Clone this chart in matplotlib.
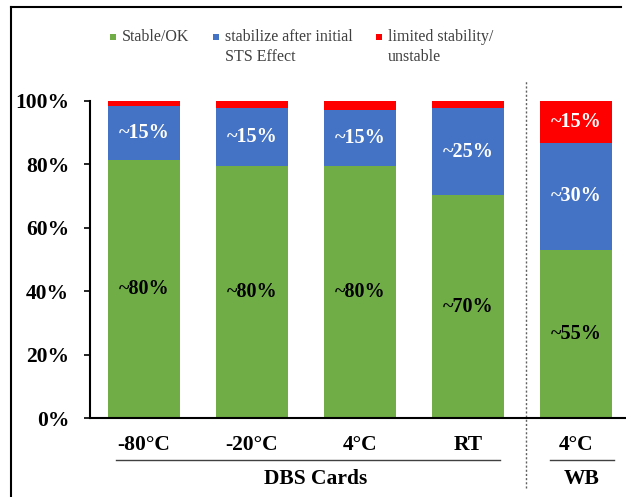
import matplotlib
matplotlib.use("Agg")
import matplotlib.pyplot as plt
from matplotlib.patches import Rectangle
from matplotlib.lines import Line2D
import numpy as np

categories = ["-80°C", "-20°C", "4°C", "RT", "4°C"]
groups = ["DBS Cards", "WB"]
stable = [81.4, 79.5, 79.5, 70.3, 53.0]
stabilize = [17.0, 18.2, 17.7, 27.5, 33.8]
unstable = [1.6, 2.3, 2.8, 2.2, 13.2]
stable_labels = ["~80%", "~80%", "~80%", "~70%", "~55%"]
stabilize_labels = ["~15%", "~15%", "~15%", "~25%", "~30%"]
unstable_labels = ["", "", "", "", "~15%"]
series_names = ["Stable/OK", "stabilize after initial\nSTS Effect",
                "limited stability/\nunstable"]
yticks = [0, 20, 40, 60, 80, 100]

GREEN = "#70ad47"
BLUE = "#4472c4"
RED = "#ff0000"
SERIF = ["Liberation Serif", "DejaVu Serif"]
FS_AXIS = 15.5
FS_BAR = 14.5

W, H = 626, 497
fig = plt.figure(figsize=(W / 100, H / 100), dpi=100)
ax = fig.add_axes([90 / W, 1 - 418 / H, (W - 90) / W, (418 - 101) / H])

x = np.arange(len(categories))
width = 0.667
s = np.array(stable)
b = np.array(stabilize)
r = np.array(unstable)
ax.bar(x, s, width, color=GREEN)
ax.bar(x, b, width, bottom=s, color=BLUE)
ax.bar(x, r, width, bottom=s + b, color=RED)

for i in range(len(categories)):
    ax.text(x[i], s[i] / 2, stable_labels[i], ha="center", va="center",
            fontsize=FS_BAR, fontweight="bold", family=SERIF, color="black")
    ax.text(x[i], s[i] + b[i] / 2, stabilize_labels[i], ha="center", va="center",
            fontsize=FS_BAR, fontweight="bold", family=SERIF, color="white")
    if unstable_labels[i]:
        ax.text(x[i], s[i] + b[i] + r[i] / 2, unstable_labels[i], ha="center",
                va="center", fontsize=FS_BAR, fontweight="bold", family=SERIF,
                color="white")

ax.set_xlim(-0.5, 4.5 - 4 / 108)
ax.set_ylim(0, 100)
ax.set_yticks(yticks)
ax.set_yticklabels([f"{t}%" for t in yticks], fontsize=FS_AXIS,
                   fontweight="bold", family=SERIF)
ax.set_xticks([])
ax.tick_params(axis="y", length=4, width=1.2, pad=11, direction="out")
for sp in ["top", "right"]:
    ax.spines[sp].set_visible(False)
for sp in ["left", "bottom"]:
    ax.spines[sp].set_linewidth(1.5)

# category labels below the axis
for i, c in enumerate(categories):
    ax.annotate(c, xy=(x[i], 0), xycoords="data", xytext=(0, -27),
                textcoords="offset pixels", ha="center", va="center",
                fontsize=FS_AXIS, fontweight="bold", family=SERIF,
                annotation_clip=False)

# group underlines and names
trans = ax.get_xaxis_transform()
y_line = -(460 - 418) / (418 - 101)
y_name = -(479 - 418) / (418 - 101)
ax.add_line(Line2D([-0.26, 3.30], [y_line, y_line], transform=trans,
                   color="#404040", lw=1.0, clip_on=False))
ax.add_line(Line2D([3.76, 4.35], [y_line, y_line], transform=trans,
                   color="#404040", lw=1.0, clip_on=False))
ax.text(1.59, y_name, groups[0], transform=trans, ha="center", va="center",
        fontsize=FS_AXIS, fontweight="bold", family=SERIF)
ax.text(4.05, y_name, groups[1], transform=trans, ha="center", va="center",
        fontsize=FS_AXIS, fontweight="bold", family=SERIF)

# dotted separator between card and blood groups
y_top = (418 - 80) / (418 - 101)
y_bot = -(488 - 418) / (418 - 101)
ax.add_line(Line2D([3.54, 3.54], [y_bot, y_top], transform=trans,
                   color="#606060", lw=1.0, ls=(0, (1.5, 1.5)), clip_on=False))

# legend: colour squares with labels aligned to the first text line
legend_x = [110, 213, 376]
for px, name, col in zip(legend_x, series_names, [GREEN, BLUE, RED]):
    fig.add_artist(Rectangle((px / W, 1 - 40 / H), 6 / W, 6 / H,
                             transform=fig.transFigure, facecolor=col,
                             edgecolor="none"))
    fig.text((px + 12) / W, 1 - 29 / H, name, ha="left", va="top",
             fontsize=11.5, family=SERIF, color="#404040", linespacing=1.3)

# outer frame (left and top edges)
fig.add_artist(Line2D([11 / W, 11 / W], [0, 1 - 7 / H], transform=fig.transFigure,
                      color="black", lw=1.5))
fig.add_artist(Line2D([11 / W, 621 / W], [1 - 7 / H, 1 - 7 / H],
                      transform=fig.transFigure, color="black", lw=1.5))

fig.savefig("out.png", dpi=100)
